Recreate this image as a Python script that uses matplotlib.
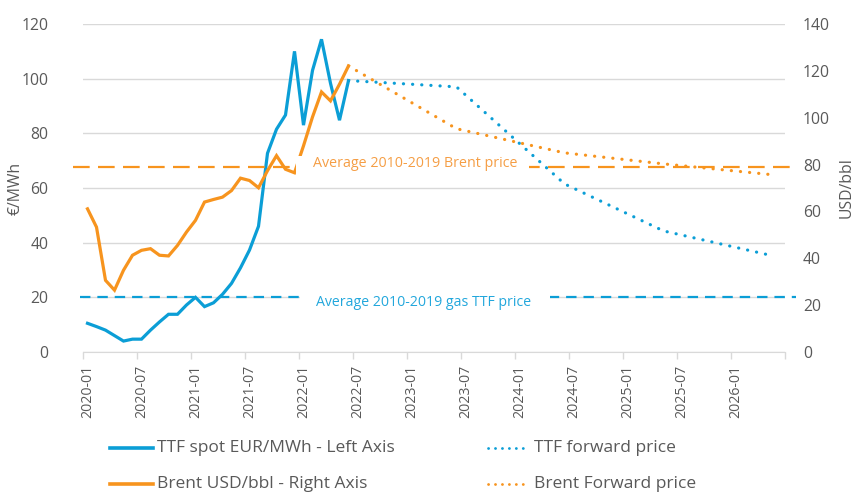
import matplotlib
matplotlib.use("Agg")
import matplotlib.pyplot as plt
from matplotlib.lines import Line2D
from matplotlib.patches import Rectangle

plt.rcParams['font.family'] = ['Open Sans', 'DejaVu Sans']
plt.rcParams['lines.scale_dashes'] = False

# ---------------- data ----------------
tick_labels = ['2020-01', '2020-07', '2021-01', '2021-07', '2022-01', '2022-07',
               '2023-01', '2023-07', '2024-01', '2024-07', '2025-01', '2025-07', '2026-01']
n_months = 78  # 2020-01 .. 2026-06

# monthly spot values, 2020-01 .. 2022-06 (month index 0..29)
spot_idx = list(range(30))
ttf_spot = [10.5, 9.3, 8.0, 6.0, 4.0, 4.7, 4.7, 8.0, 11.0, 13.8,
            13.8, 17.2, 20.0, 16.6, 18.0, 21.1, 25.1, 30.8, 37.3, 46.0,
            72.7, 81.5, 86.7, 110.0, 83.0, 103.0, 114.4, 98.3, 84.8, 99.3]
brent_spot = [61.1, 53.3, 30.6, 26.4, 34.9, 41.3, 43.4, 44.1, 41.3, 41.0,
              45.5, 51.2, 56.2, 64.0, 65.1, 66.1, 68.9, 74.2, 73.2, 70.1,
              77.4, 83.8, 78.0, 76.5, 88.0, 100.3, 111.0, 107.2, 114.3, 122.1]

# forward curves (month index of curve points)
fwd_idx = [29, 41, 53, 64, 76]
ttf_fwd = [99.3, 97.0, 61.5, 44.3, 35.3]
brent_fwd = [122.1, 95.3, 85.0, 80.3, 75.7]

ttf_avg = 20.0     # EUR/MWh, left axis
brent_avg = 79.0   # USD/bbl, right axis

BLUE = '#0B9ED6'
ORANGE = '#F7941E'
BLUE_TXT = '#22A7DC'
ORANGE_TXT = '#F59E45'
GREY = '#595959'
GRID = '#D9D9D9'

W, H = 857, 492
fig = plt.figure(figsize=(W / 100, H / 100), dpi=100)
x0, x1, y0, y1 = 83, 785, 24, 352
ax = fig.add_axes([x0 / W, 1 - y1 / H, (x1 - x0) / W, (y1 - y0) / H])
ax2 = ax.twinx()

ax.set_xlim(-0.5, n_months - 0.5)
ax.set_ylim(0, 120)
ax2.set_ylim(0, 140)
ax.set_yticks(range(0, 121, 20))
ax2.set_yticks(range(0, 141, 20))

ax.grid(axis='y', color=GRID, lw=1.0)
ax.set_axisbelow(True)
for s in ['top', 'left', 'right']:
    ax.spines[s].set_visible(False)
ax.spines['bottom'].set_color(GRID)
for s in ax2.spines.values():
    s.set_visible(False)

# x ticks: labels at month centres, tick marks at half-year boundaries
ax.set_xticks(range(0, 73, 6))
ax.set_xticklabels(tick_labels, rotation=90, fontsize=10.2, color=GREY)
ax.tick_params(axis='x', which='major', length=0, pad=9)
ax.set_xticks([i - 0.5 for i in range(0, n_months + 1, 6)], minor=True)
ax.tick_params(axis='x', which='minor', length=5, color=GRID, width=1)

ax.tick_params(axis='y', length=0, pad=25, labelsize=11.3, labelcolor=GREY)
ax2.tick_params(axis='y', length=0, pad=13, labelsize=11.3, labelcolor=GREY)
ax.set_ylabel('€/MWh', fontsize=11.3, color=GREY)
ax2.set_ylabel('USD/bbl', fontsize=11.3, color=GREY)
ax.yaxis.set_label_coords((24 - x0) / (x1 - x0), 0.5)
ax2.yaxis.set_label_coords((839 - x0) / (x1 - x0), 0.5)

# average lines
xl = ax.get_xlim()
ax.hlines(ttf_avg, xl[0] - 0.3, xl[1] + 1.2, color=BLUE, lw=1.6,
          linestyles=[(0, (7.5, 5.0))], clip_on=False, zorder=2)
ax2.hlines(brent_avg, xl[0] - 1.1, xl[1] + 0.6, color=ORANGE, lw=1.6,
           linestyles=[(0, (12.0, 6.0))], clip_on=False, zorder=2)

# series
ax.plot(spot_idx, ttf_spot, color=BLUE, lw=2.3, solid_joinstyle='miter', zorder=3)
ax.plot(fwd_idx, ttf_fwd, color=BLUE, lw=2.3, linestyle=(0, (0.1, 6.5)),
        dash_capstyle='round', zorder=3)
ax2.plot(spot_idx, brent_spot, color=ORANGE, lw=2.3, solid_joinstyle='miter', zorder=3)
ax2.plot(fwd_idx, brent_fwd, color=ORANGE, lw=2.3, linestyle=(0, (0.1, 6.5)),
         dash_capstyle='round', zorder=3)

# labels of the average lines, on white boxes
ax2.add_patch(Rectangle((23.2, 74.0), 25.9, 9.8, facecolor='white',
                        edgecolor='none', zorder=5))
ax2.text(36.4, 80.3, 'Average 2010-2019 Brent price', color=ORANGE_TXT,
         fontsize=10.3, ha='center', va='center', zorder=6)
ax2.add_patch(Rectangle((23.6, 16.8), 27.8, 9.8, facecolor='white',
                        edgecolor='none', zorder=5))
ax2.text(37.3, 21.3, 'Average 2010-2019 gas TTF price', color=BLUE_TXT,
         fontsize=10.2, ha='center', va='center', zorder=6)

# legend (2 x 2)
def fx(px):
    return px / W

def fy(py):
    return 1 - py / H

entries = [
    (110, 153, 448, BLUE, '-', 'TTF spot EUR/MWh - Left Axis'),
    (488, 527, 448, BLUE, ':', 'TTF forward price'),
    (110, 153, 484, ORANGE, '-', 'Brent USD/bbl - Right Axis'),
    (488, 527, 484, ORANGE, ':', 'Brent Forward price'),
]
for xa, xb, yy, col, st, lab in entries:
    if st == '-':
        ln = Line2D([fx(xa), fx(xb)], [fy(yy), fy(yy)], color=col, lw=2.6,
                    transform=fig.transFigure)
    else:
        ln = Line2D([fx(xa), fx(xb)], [fy(yy), fy(yy)], color=col, lw=2.0,
                    linestyle=(0, (0.1, 4.9)), dash_capstyle='round',
                    transform=fig.transFigure)
    fig.add_artist(ln)
    fig.text(fx(xb + (4 if st == '-' else 7)), fy(yy), lab,
             fontsize=12.5, color=GREY, ha='left', va='center')

fig.savefig('out.png', dpi=100)
